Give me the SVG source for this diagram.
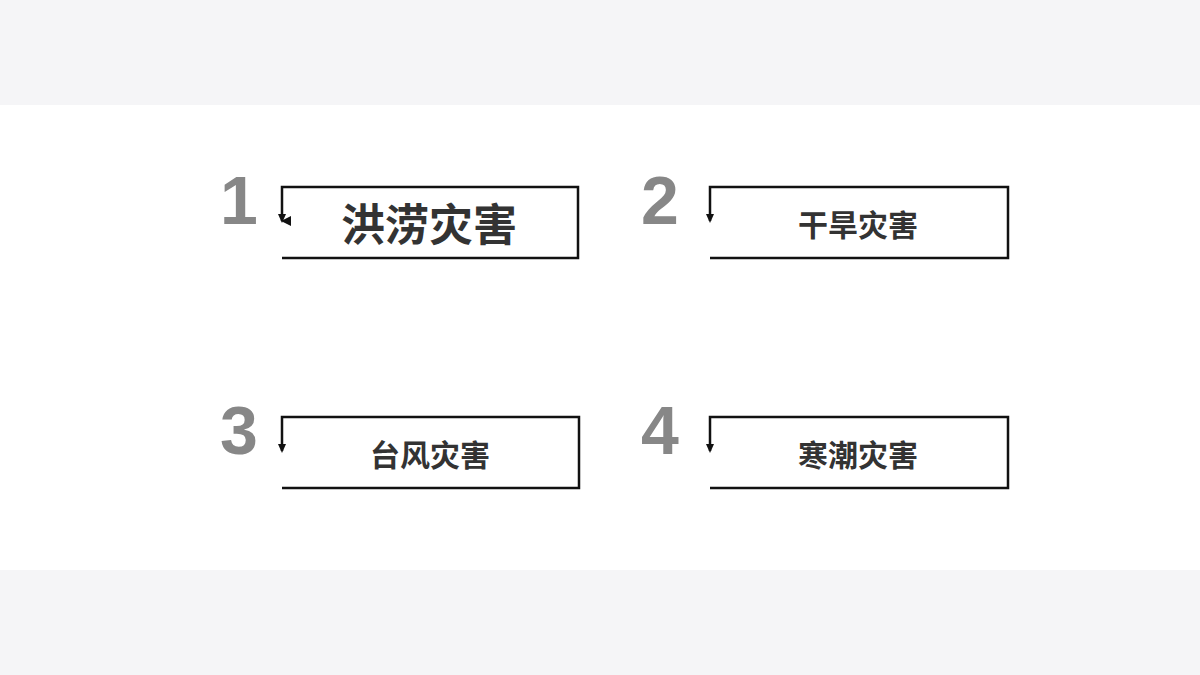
<svg xmlns="http://www.w3.org/2000/svg" width="1200" height="675" viewBox="0 0 1200 675">
<defs>
<style>
.num{font-family:"Liberation Sans","Noto Sans CJK SC",sans-serif;font-weight:bold;font-size:68px;fill:#878787}
.lbl{font-family:"Noto Sans CJK SC",sans-serif;font-weight:bold;font-size:30px;fill:#333;text-anchor:middle}
.big{font-size:44px}
.ln{fill:none;stroke:#111;stroke-width:2.5}
</style>
<marker id="ah" viewBox="0 0 10 10" refX="5" refY="9" markerWidth="4" markerHeight="4" orient="auto-start-reverse"><path d="M0,0 L10,0 L5,10 z" fill="#111"/></marker>
</defs>
<rect width="1200" height="675" fill="#f5f5f7"/>
<rect y="105" width="1200" height="465" fill="#fff"/>
<g id="connectors">
<path class="ln" d="M282,258 H578 V187 H282 V221" marker-end="url(#ah)" transform="rotate(0)"/>
<path class="ln" d="M710,258 H1008 V187 H710 V221"/>
<path class="ln" d="M282,488 H579 V417 H282 V451"/>
<path class="ln" d="M710,488 H1008 V417 H710 V451"/>
</g>
<g fill="#111">
<path d="M278,214 L286,214 L282,223 z"/>
<path d="M706,214 L714,214 L710,223 z"/>
<path d="M278,444 L286,444 L282,453 z"/>
<path d="M706,444 L714,444 L710,453 z"/>
</g>
<g id="n1"><text class="num" x="220" y="224">1</text><text class="lbl big" x="429" y="241">洪涝灾害</text></g>
<g id="n2"><text class="num" x="641" y="224">2</text><text class="lbl" x="858" y="236">干旱灾害</text></g>
<g id="n3"><text class="num" x="220" y="454">3</text><text class="lbl" x="430" y="466">台风灾害</text></g>
<g id="n4"><text class="num" x="641" y="454">4</text><text class="lbl" x="858" y="466">寒潮灾害</text></g>
</svg>
